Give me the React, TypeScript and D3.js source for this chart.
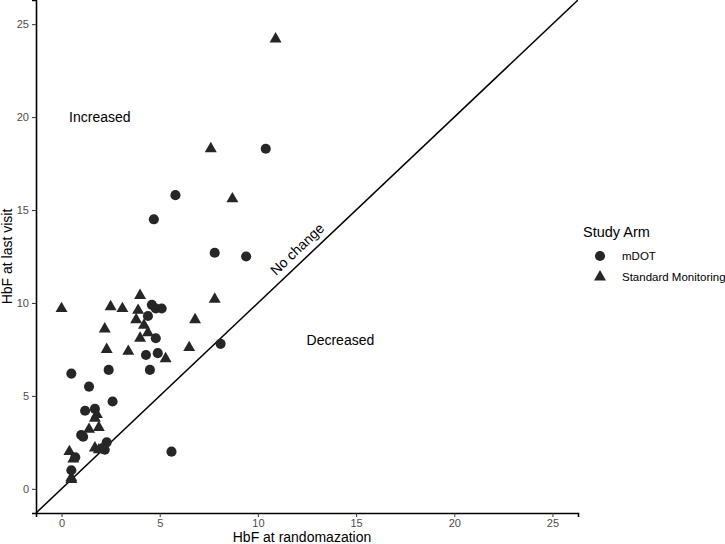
import React, { useRef, useEffect } from 'react';
import * as d3 from 'd3';

const FONT = 'Liberation Sans, Arial, Helvetica, sans-serif';
const POINT_COLOR = '#262626';

// mDOT arm: [HbF at randomization, HbF at last visit]
const mdotPoints: [number, number][] = [
  [10.4, 18.3], [5.8, 15.8], [4.7, 14.5], [7.8, 12.7], [9.4, 12.5],
  [4.6, 9.9], [4.8, 9.7], [5.1, 9.7], [4.4, 9.3], [4.8, 8.1],
  [4.3, 7.2], [4.9, 7.3], [8.1, 7.8], [0.5, 6.2], [2.4, 6.4],
  [4.5, 6.4], [1.4, 5.5], [2.6, 4.7], [1.2, 4.2], [1.7, 4.3],
  [1.0, 2.9], [1.1, 2.8], [2.3, 2.5], [2.1, 2.2], [2.2, 2.1],
  [0.7, 1.7], [0.5, 1.0], [5.6, 2.0],
];

// Standard Monitoring arm
const standardPoints: [number, number][] = [
  [10.9, 24.2], [7.6, 18.3], [8.7, 15.6], [0.0, 9.7], [4.0, 10.4],
  [2.5, 9.8], [3.1, 9.7], [3.9, 9.6], [3.8, 9.1], [4.2, 8.8],
  [2.2, 8.6], [4.4, 8.4], [4.0, 8.1], [7.8, 10.2], [6.8, 9.1],
  [6.5, 7.6], [2.3, 7.5], [3.4, 7.4], [5.3, 7.0], [1.8, 4.0],
  [1.7, 3.8], [1.4, 3.2], [1.9, 3.3], [0.4, 2.0], [0.6, 1.6],
  [1.7, 2.2], [1.9, 2.1], [0.5, 0.6], [0.5, 0.5],
];

const ticks = [0, 5, 10, 15, 20, 25];
const domain: [number, number] = [-1.3, 26.3];

const regionLabels = [
  { text: 'Increased', x: 1.95, y: 20.0, angle: 0 },
  { text: 'Decreased', x: 14.2, y: 8.0, angle: 0 },
  { text: 'No change', x: 12.0, y: 12.9, angle: 1 },
];

const legendItems = [
  { name: 'mDOT', shape: d3.symbolCircle },
  { name: 'Standard Monitoring', shape: d3.symbolTriangle },
];

export default function App() {
  const svgRef = useRef<SVGSVGElement>(null);

  useEffect(() => {
    const svgElement = svgRef.current;
    if (!svgElement) return;
    const width = 725, height = 544;
    const svg = d3.select(svgElement);
    svg.selectAll('*').remove();

    const left = 36, right = 578, top = 0, bottom = 513;
    const x = d3.scaleLinear().domain(domain).range([left, right]);
    const y = d3.scaleLinear().domain(domain).range([bottom, top]);

    svg.append('rect').attr('width', width).attr('height', height).attr('fill', '#fff');

    svg.append('defs').append('clipPath').attr('id', 'panel-clip')
      .append('rect').attr('x', left).attr('y', top)
      .attr('width', right - left).attr('height', bottom - top);

    // identity line
    svg.append('line')
      .attr('x1', x(domain[0])).attr('y1', y(domain[0]))
      .attr('x2', x(domain[1])).attr('y2', y(domain[1]))
      .attr('stroke', '#000').attr('stroke-width', 1.5)
      .attr('clip-path', 'url(#panel-clip)');

    // points
    const circle = d3.symbol().type(d3.symbolCircle).size(80);
    const tri = d3.symbol().type(d3.symbolTriangle).size(62);

    svg.append('g').selectAll('path').data(mdotPoints).join('path')
      .attr('d', circle)
      .attr('transform', d => `translate(${x(d[0])},${y(d[1])})`)
      .attr('fill', POINT_COLOR);

    svg.append('g').selectAll('path').data(standardPoints).join('path')
      .attr('d', tri)
      .attr('transform', d => `translate(${x(d[0])},${y(d[1])})`)
      .attr('fill', POINT_COLOR);

    // region labels
    const angle = -Math.atan2(y(0) - y(1), x(1) - x(0)) * 180 / Math.PI;
    regionLabels.forEach(l => {
      svg.append('text')
        .attr('transform', `translate(${x(l.x)},${y(l.y)}) rotate(${l.angle ? angle : 0})`)
        .attr('text-anchor', 'middle').attr('dy', '0.35em')
        .attr('font-family', FONT).attr('font-size', '14px').attr('fill', '#000')
        .text(l.text);
    });

    // x axis
    svg.append('g')
      .attr('transform', `translate(0,${bottom})`)
      .call(d3.axisBottom(x).tickValues(ticks).tickSize(4).tickPadding(2))
      .call(g => g.select('.domain').attr('stroke', '#000').attr('stroke-width', 1.6))
      .call(g => g.selectAll('.tick line').attr('stroke', '#333').attr('stroke-width', 1))
      .call(g => g.selectAll('text').attr('fill', '#4d4d4d').attr('font-size', '11px').attr('font-family', FONT));

    // y axis
    svg.append('g')
      .attr('transform', `translate(${left},0)`)
      .call(d3.axisLeft(y).tickValues(ticks).tickSize(4).tickPadding(3))
      .call(g => g.select('.domain').attr('stroke', '#000').attr('stroke-width', 1.6))
      .call(g => g.selectAll('.tick line').attr('stroke', '#333').attr('stroke-width', 1))
      .call(g => g.selectAll('text').attr('fill', '#4d4d4d').attr('font-size', '11px').attr('font-family', FONT));

    // axis titles
    svg.append('text')
      .attr('x', 302).attr('y', 542)
      .attr('text-anchor', 'middle')
      .attr('font-family', FONT).attr('font-size', '14px').attr('fill', '#000')
      .text('HbF at randomazation');

    svg.append('text')
      .attr('transform', `translate(12,${(top + bottom) / 2}) rotate(-90)`)
      .attr('text-anchor', 'middle')
      .attr('font-family', FONT).attr('font-size', '14px').attr('fill', '#000')
      .text('HbF at last visit');

    // legend
    const lg = svg.append('g').attr('transform', 'translate(583,0)');
    lg.append('text')
      .attr('x', 0).attr('y', 237)
      .attr('font-family', FONT).attr('font-size', '14.5px').attr('fill', '#000')
      .text('Study Arm');
    legendItems.forEach((item, i) => {
      const cy = 256 + i * 21;
      lg.append('path')
        .attr('d', d3.symbol().type(item.shape).size(item.shape === d3.symbolCircle ? 80 : 62)())
        .attr('transform', `translate(17,${cy})`)
        .attr('fill', POINT_COLOR);
      lg.append('text')
        .attr('x', 39).attr('y', cy).attr('dy', '0.35em')
        .attr('font-family', FONT).attr('font-size', '11.5px').attr('fill', '#000')
        .text(item.name);
    });
  }, []);

  return (
    <div style={{ position: 'absolute', top: 0, left: 0, width: 725, height: 544 }}>
      <svg ref={svgRef} width={725} height={544} style={{ display: 'block' }} />
    </div>
  );
}
